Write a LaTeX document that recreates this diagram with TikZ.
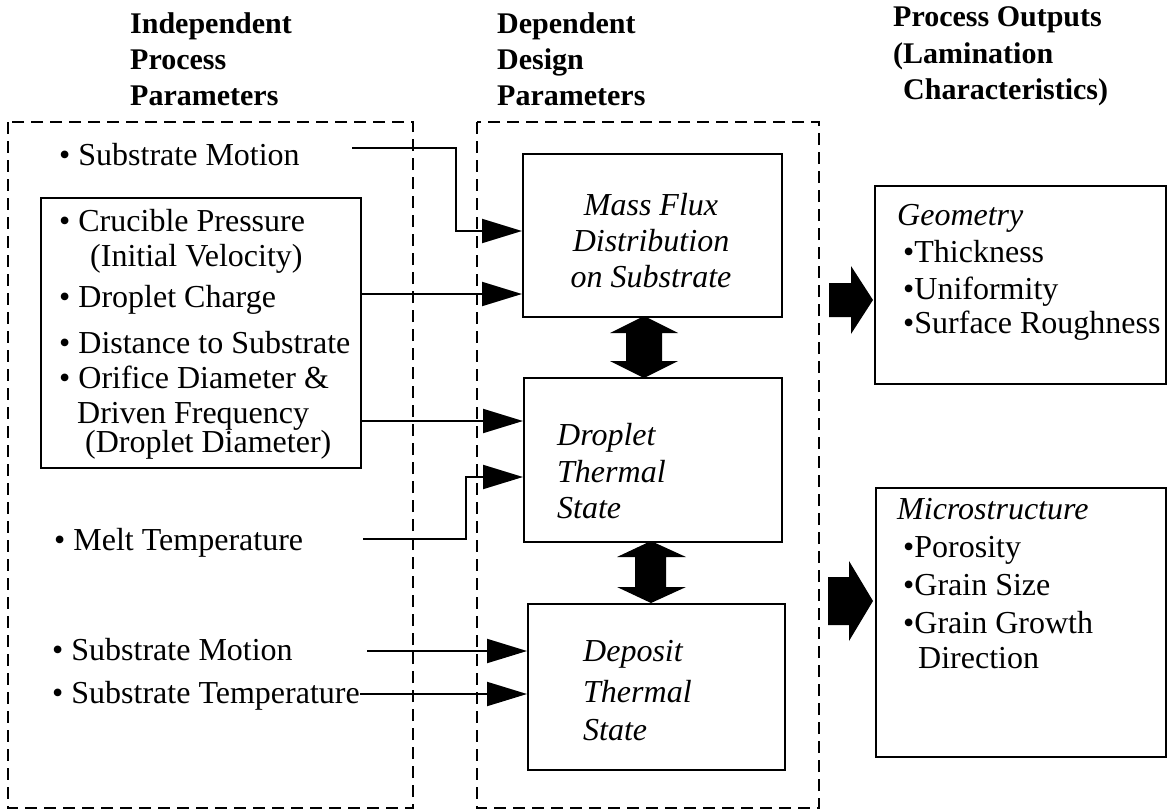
\documentclass[tikz,border=0pt]{standalone}
\usepackage{fontspec}
\setmainfont{Liberation Serif}
\usetikzlibrary{arrows.meta}
\begin{document}
\begin{tikzpicture}[x=1pt,y=-1pt,
  txt/.style={anchor=base west, inner sep=0pt, font=\fontsize{32}{36}\selectfont},
  itx/.style={anchor=base west, inner sep=0pt, font=\fontsize{32}{36}\selectfont\itshape},
  hdr/.style={anchor=base west, inner sep=0pt, font=\fontsize{30}{36}\selectfont\bfseries},
  box/.style={draw, line width=2pt, rectangle, inner sep=0pt, anchor=north west},
  dbox/.style={draw, line width=2pt, dash pattern=on 12pt off 7pt},
  conn/.style={line width=2pt, -{Triangle[length=40pt,width=24pt]}},
  blk/.style={fill=black}
]
\useasboundingbox (0,0) rectangle (1167,811);

% dashed group frames
\draw[dbox] (8,122) rectangle (413,808);
\draw[dbox] (477,122) rectangle (819,808);

% headers
\node[hdr] (h1) at (130,33) {Independent};
\node[hdr] (h2) at (130,69) {Process};
\node[hdr] (h3) at (130,105) {Parameters};
\node[hdr] (h4) at (497,33) {Dependent};
\node[hdr] (h5) at (497,69) {Design};
\node[hdr] (h6) at (497,105) {Parameters};
\node[hdr] (h7) at (893,27) {Process Outputs};
\node[hdr] (h8) at (893,63) {(Lamination};
\node[hdr] (h9) at (903,99) {Characteristics)};

% boxes
\node[box, minimum width=320pt, minimum height=270pt] (inner) at (40,197) {};
\node[box, minimum width=259pt, minimum height=163pt] (mass) at (522,153) {};
\node[box, minimum width=258pt, minimum height=164pt] (drop) at (523,377) {};
\node[box, minimum width=257pt, minimum height=166pt] (dep) at (527,603) {};
\node[box, minimum width=291pt, minimum height=198pt] (geo) at (874,185) {};
\node[box, minimum width=290pt, minimum height=269pt] (micro) at (875,487) {};

% left texts
\node[txt] (t1) at (59,165) {• Substrate Motion};
\node[txt] (t2) at (59,231) {• Crucible Pressure};
\node[txt] (t3) at (90,266) {(Initial Velocity)};
\node[txt] (t4) at (59,307) {• Droplet Charge};
\node[txt] (t5) at (59,353) {• Distance to Substrate};
\node[txt] (t6) at (59,388) {• Orifice Diameter \&};
\node[txt] (t7) at (77,423) {Driven Frequency};
\node[txt] (t8) at (85,452) {(Droplet Diameter)};
\node[txt] (t9) at (54,550) {• Melt Temperature};
\node[txt] (t10) at (52,660) {• Substrate Motion};
\node[txt] (t11) at (52,703) {• Substrate Temperature};

% design parameter texts
\node[itx, anchor=base] (mf1) at (651,215) {Mass Flux};
\node[itx, anchor=base] (mf2) at (651,251) {Distribution};
\node[itx, anchor=base] (mf3) at (651,287) {on Substrate};
\node[itx] (dr1) at (557,445) {Droplet};
\node[itx] (dr2) at (557,482) {Thermal};
\node[itx] (dr3) at (557,518) {State};
\node[itx] (de1) at (583,661) {Deposit};
\node[itx] (de2) at (583,702) {Thermal};
\node[itx] (de3) at (583,740) {State};

% output texts
\node[itx] (g0) at (897,225) {Geometry};
\node[txt] (g1) at (903,262) {•Thickness};
\node[txt] (g2) at (903,299) {•Uniformity};
\node[txt] (g3) at (903,333) {•Surface Roughness};
\node[itx] (m0) at (897,519) {Microstructure};
\node[txt] (m1) at (903,557) {•Porosity};
\node[txt] (m2) at (903,595) {•Grain Size};
\node[txt] (m3) at (903,633) {•Grain Growth};
\node[txt] (m4) at (918,668) {Direction};

% connectors
\coordinate (c1) at (352,148);
\coordinate (k1) at (456,231);
\draw[conn] (c1) -| (k1) -- (k1 -| mass.west);
\coordinate (c2) at (360,294);
\draw[conn] (c2) -- (c2 -| mass.west);
\coordinate (c3) at (360,421);
\draw[conn] (c3) -- (c3 -| drop.west);
\coordinate (c4) at (363,539);
\coordinate (k4) at (466,477);
\draw[conn] (c4) -| (k4) -- (k4 -| drop.west);
\coordinate (c5) at (367,651);
\draw[conn] (c5) -- (c5 -| dep.west);
\coordinate (c6) at (360,694);
\draw[conn] (c6) -- (c6 -| dep.west);

% double arrows between design parameter boxes
\fill[blk] (644,316) -- (678,333) -- (662,333) -- (662,361) -- (678,361) -- (644,378)
  -- (610,361) -- (626,361) -- (626,333) -- (610,333) -- cycle;
\fill[blk] (651,541) -- (686,557) -- (666,557) -- (666,587) -- (686,587) -- (651,603)
  -- (617,587) -- (635,587) -- (635,557) -- (617,557) -- cycle;

% block arrows to outputs
\fill[blk] (829,283) -- (851,283) -- (851,266) -- (873,300) -- (851,334) -- (851,317) -- (829,317) -- cycle;
\fill[blk] (828,577) -- (849,577) -- (849,561) -- (873,601) -- (849,641) -- (849,625) -- (828,625) -- cycle;
\end{tikzpicture}
\end{document}
